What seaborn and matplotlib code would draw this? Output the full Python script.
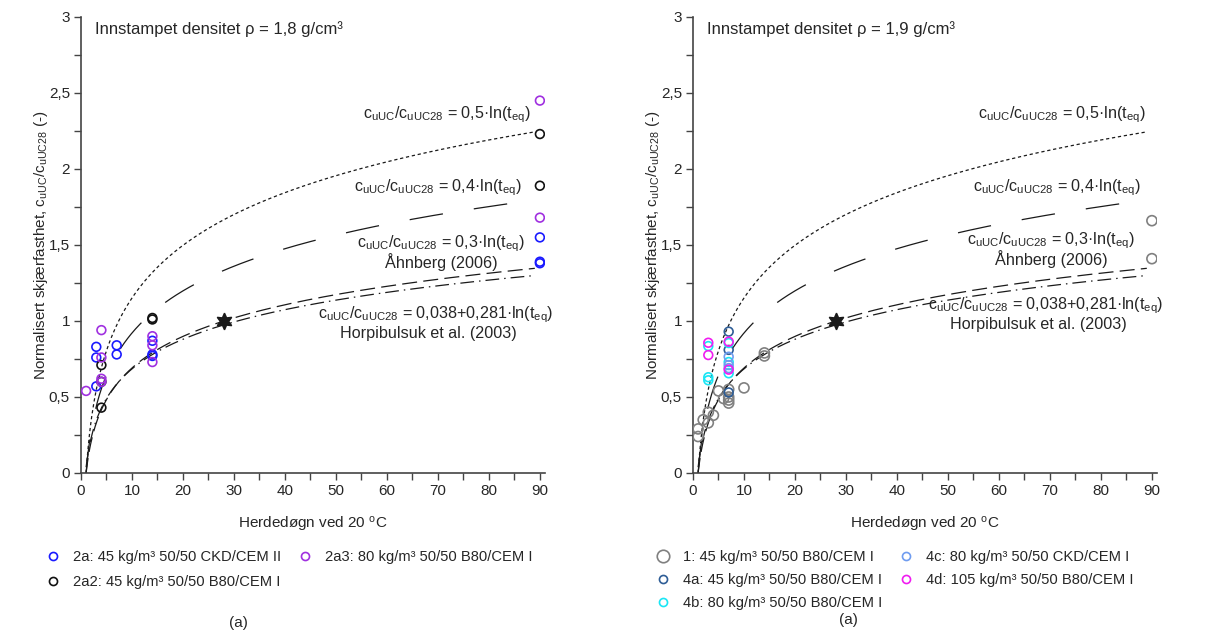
import numpy as np
import pandas as pd
import matplotlib
matplotlib.use("Agg")
import matplotlib.pyplot as plt
from matplotlib.lines import Line2D
from matplotlib.ticker import FuncFormatter, MultipleLocator
import seaborn as sns

sns.set_theme(style="white")
plt.rcParams["font.family"] = ["Liberation Sans", "DejaVu Sans"]
plt.rcParams["mathtext.fontset"] = "custom"
plt.rcParams["mathtext.rm"] = "Liberation Sans"
plt.rcParams["mathtext.it"] = "Liberation Sans"

# ---- measured series, density 1.8 g/cm3 ----
t_2a = [3, 3, 3, 7, 7, 14, 14, 14, 90, 90, 90]
r_2a = [0.83, 0.76, 0.57, 0.84, 0.78, 0.87, 0.78, 0.77, 1.55, 1.38, 1.39]
t_2a2 = [4, 4, 4, 14, 14, 90, 90]
r_2a2 = [0.71, 0.60, 0.43, 1.01, 1.02, 2.23, 1.89]
t_2a3 = [1, 4, 4, 4, 4, 14, 14, 14, 90, 90]
r_2a3 = [0.54, 0.94, 0.76, 0.62, 0.60, 0.90, 0.84, 0.73, 2.45, 1.68]

# ---- measured series, density 1.9 g/cm3 ----
t_1 = [1, 1, 2, 3, 3, 4, 5, 6, 7, 7, 7, 7, 10, 14, 14, 90, 90]
r_1 = [0.29, 0.24, 0.35, 0.40, 0.33, 0.38, 0.54, 0.49, 0.55, 0.50, 0.48, 0.46,
       0.56, 0.79, 0.77, 1.66, 1.41]
t_4a = [7, 7, 7]
r_4a = [0.93, 0.81, 0.53]
t_4b = [3, 3, 3, 7, 7, 7]
r_4b = [0.835, 0.63, 0.61, 0.855, 0.73, 0.656]
t_4c = [7, 7, 7]
r_4c = [0.765, 0.71, 0.69]
t_4d = [3, 3, 7, 7]
r_4d = [0.857, 0.776, 0.864, 0.68]

# reference point at 28 days
t_ref = [28]
r_ref = [1.0]

# curve coefficients
coef_05 = 0.5
coef_04 = 0.4
coef_03 = 0.3
horp_a, horp_b = 0.038, 0.281

left_series = [
    ("2a: 45 kg/m³ 50/50 CKD/CEM II", t_2a, r_2a, "#1a1aff", 40, 5.8),
    ("2a2: 45 kg/m³ 50/50 B80/CEM I", t_2a2, r_2a2, "#111111", 40, 5.8),
    ("2a3: 80 kg/m³ 50/50 B80/CEM I", t_2a3, r_2a3, "#a030e0", 40, 5.8),
]
right_series = [
    ("1: 45 kg/m³ 50/50 B80/CEM I", t_1, r_1, "#808080", 52, 9),
    ("4a: 45 kg/m³ 50/50 B80/CEM I", t_4a, r_4a, "#2e5d96", 40, 5.8),
    ("4b: 80 kg/m³ 50/50 B80/CEM I", t_4b, r_4b, "#19e6f5", 40, 5.8),
    ("4c: 80 kg/m³ 50/50 CKD/CEM I", t_4c, r_4c, "#6f9cf0", 40, 5.8),
    ("4d: 105 kg/m³ 50/50 B80/CEM I", t_4d, r_4d, "#f01cf0", 40, 5.8),
]

lbl = r"c$_{\mathrm{uUC}}$/c$_{\mathrm{uUC28}}$"

fig = plt.figure(figsize=(12.2, 6.35), dpi=100)
ax_l = fig.add_axes([81 / 1220, 162 / 635, 464 / 1220, 456 / 635])
ax_r = fig.add_axes([693 / 1220, 162 / 635, 464 / 1220, 456 / 635])


def comma(v, pos):
    s = f"{v:g}"
    return s.replace(".", ",")


def draw_panel(ax, series, title, lab_pos):
    t = np.linspace(1, 89, 400)
    ax.plot(t, coef_05 * np.log(t), color="k", lw=0.9, dashes=(2.6, 2.2))
    ax.plot(t, coef_04 * np.log(t), color="k", lw=0.9, dashes=(27, 25))
    ax.plot(t, coef_03 * np.log(t), color="k", lw=0.9, dashes=(12, 5))
    ax.plot(t, horp_a + horp_b * np.log(t), color="k", lw=0.9,
            dashes=(11, 4, 1.2, 4))
    for name, tx, ry, col, s, _ in series:
        df = pd.DataFrame({"t": tx, "r": ry})
        sns.scatterplot(data=df, x="t", y="r", ax=ax, marker="o", s=s,
                        facecolor="none", edgecolor=col, linewidth=1.2,
                        legend=False, zorder=3)
    ax.plot(t_ref, r_ref, marker=(6, 1, 0), color="k", ms=12, ls="none",
            zorder=4)

    fs = 11.6
    (x5, y5), (x4, y4), (x3, y3), (xh, yh) = lab_pos
    ax.text(x5, y5, lbl + " = 0,5·ln(t$_{\\mathrm{eq}}$)", ha="center",
            va="center", fontsize=fs)
    ax.text(x4, y4, lbl + " = 0,4·ln(t$_{\\mathrm{eq}}$)", ha="center",
            va="center", fontsize=fs)
    ax.text(x3, y3, lbl + " = 0,3·ln(t$_{\\mathrm{eq}}$)", ha="center",
            va="center", fontsize=fs)
    ax.text(x3, y3 - 0.125, "Åhnberg (2006)", ha="center", va="center",
            fontsize=fs)
    ax.text(xh, yh, lbl + " = 0,038+0,281·ln(t$_{\\mathrm{eq}}$)",
            ha="center", va="center", fontsize=fs)
    ax.text(xh - 1.5, yh - 0.12, "Horpibulsuk et al. (2003)", ha="center",
            va="center", fontsize=fs)
    ax.text(2.7, 2.92, title, ha="left", va="center", fontsize=12)

    ax.set_xlim(0, 91)
    ax.set_ylim(0, 3)
    ax.xaxis.set_major_locator(MultipleLocator(10))
    ax.xaxis.set_minor_locator(MultipleLocator(5))
    ax.yaxis.set_major_locator(MultipleLocator(0.5))
    ax.yaxis.set_minor_locator(MultipleLocator(0.25))
    ax.yaxis.set_major_formatter(FuncFormatter(comma))
    ax.tick_params(which="both", direction="out", length=5, width=1,
                   color="#444444", labelsize=11, bottom=True, left=True)
    ax.tick_params(which="major", pad=3)
    for sp in ("top", "right"):
        ax.spines[sp].set_visible(False)
    for sp in ("left", "bottom"):
        ax.spines[sp].set_color("#444444")
        ax.spines[sp].set_linewidth(1.2)
    ax.set_xlabel("Herdedøgn ved 20 $^{\\mathrm{o}}$C", fontsize=11,
                  labelpad=12)
    ax.set_ylabel("Normalisert skjærfasthet, " + lbl + " (-)", fontsize=11,
                  labelpad=-1)
    ax.set_facecolor("white")
    ax.grid(False)


draw_panel(ax_l, left_series, "Innstampet densitet ρ = 1,8 g/cm³",
           [(71.8, 2.355), (70.0, 1.88), (70.6, 1.51), (69.6, 1.04)])
draw_panel(ax_r, right_series, "Innstampet densitet ρ = 1,9 g/cm³",
           [(72.4, 2.355), (71.4, 1.88), (70.2, 1.53), (69.2, 1.10)])


def make_legend(series, anchor, spacing):
    handles = [Line2D([], [], marker="o", ls="none", mfc="none", mec=col,
                      mew=1.2, ms=ms) for _, _, _, col, _, ms in series]
    names = [s[0] for s in series]
    fig.legend(handles, names, loc="upper left", bbox_to_anchor=anchor,
               ncol=2, frameon=False, fontsize=10.6, handlelength=1.0,
               handletextpad=0.86, columnspacing=1.13,
               labelspacing=spacing, borderpad=0, borderaxespad=0)


make_legend(left_series, (45.5 / 1220, 1 - 550 / 635), 0.78)
make_legend(right_series, (655.5 / 1220, 1 - 550 / 635), 0.6)

fig.text(238 / 1220, 1 - 623 / 635, "(a)", ha="center", va="center",
         fontsize=11)
fig.text(848 / 1220, 1 - 620 / 635, "(a)", ha="center", va="center",
         fontsize=11)

fig.savefig("out.png", dpi=100, facecolor="white")
